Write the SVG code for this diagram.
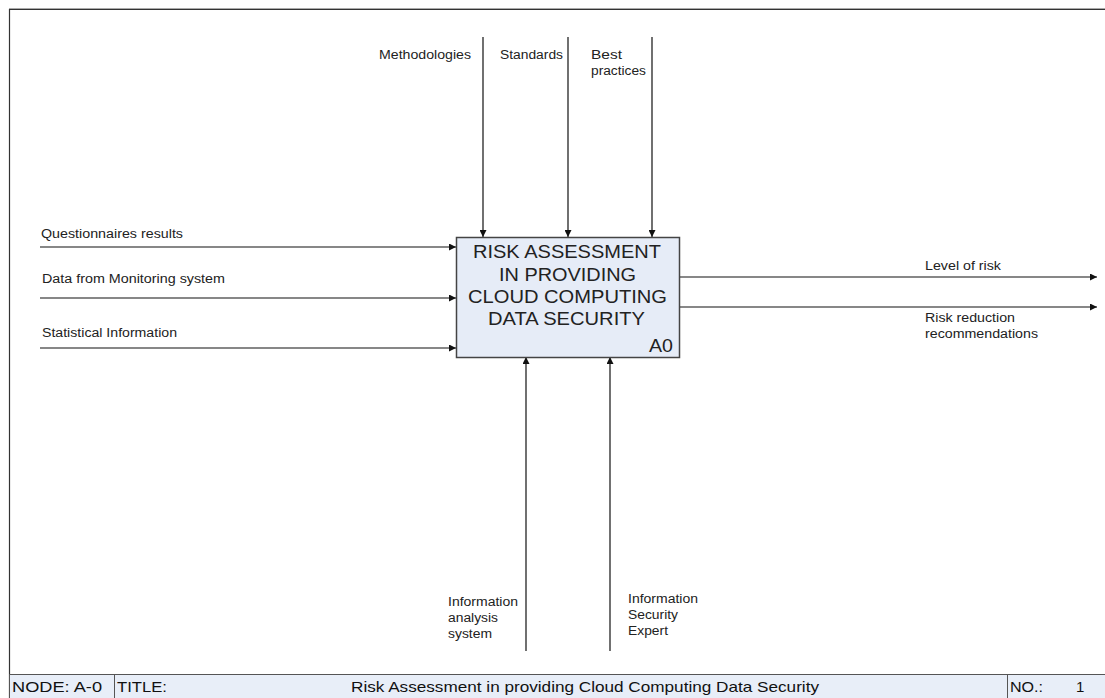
<svg xmlns="http://www.w3.org/2000/svg" width="1105" height="698" viewBox="0 0 1105 698">
<style>
.lbl{font-family:"Liberation Sans",Arial,sans-serif;font-size:12.5px;fill:#222}
.ttl{font-family:"Liberation Sans",Arial,sans-serif;font-size:18.5px;fill:#222}
.ft{font-family:"Liberation Sans",Arial,sans-serif;font-size:15px;fill:#111}
.ar{stroke:#111;stroke-width:1.2;fill:none;marker-end:url(#ah)}
</style>
<defs>
<marker id="ah" viewBox="0 0 10 10" refX="10" refY="5" markerWidth="8" markerHeight="7" markerUnits="userSpaceOnUse" orient="auto">
<path d="M0,0 L10,5 L0,10 Z" fill="#111"/>
</marker>
</defs>
<rect width="1105" height="698" fill="#fff"/>
<g id="frame">
<line x1="9" y1="8.5" x2="1105" y2="8.5" stroke="#aaa" stroke-width="1"/>
<line x1="9" y1="9.5" x2="1105" y2="9.5" stroke="#333" stroke-width="1.2"/>
<line x1="9.5" y1="9" x2="9.5" y2="698" stroke="#333" stroke-width="1.2"/>
<rect x="9.5" y="674.5" width="1100" height="26" fill="#e8eef8" stroke="#555" stroke-width="1"/>
<line x1="114.5" y1="674" x2="114.5" y2="698" stroke="#555"/>
<line x1="1007.5" y1="674" x2="1007.5" y2="698" stroke="#555"/>
<text class="ft" x="12" y="692" textLength="90" lengthAdjust="spacingAndGlyphs">NODE:  A-0</text>
<text class="ft" x="117" y="692" textLength="50" lengthAdjust="spacingAndGlyphs">TITLE:</text>
<text class="ft" x="351" y="692" textLength="468" lengthAdjust="spacingAndGlyphs">Risk Assessment in providing Cloud Computing Data Security</text>
<text class="ft" x="1010" y="692" textLength="33" lengthAdjust="spacingAndGlyphs">NO.:</text>
<text class="ft" x="1076" y="692">1</text>
</g>
<g id="connectors">
<line class="ar" x1="483" y1="37" x2="483" y2="237"/>
<line class="ar" x1="568" y1="37" x2="568" y2="237"/>
<line class="ar" x1="652" y1="37" x2="652" y2="237"/>
<line class="ar" x1="40" y1="247" x2="456" y2="247"/>
<line class="ar" x1="40" y1="298" x2="456" y2="298"/>
<line class="ar" x1="40" y1="348" x2="456" y2="348"/>
<line class="ar" x1="680" y1="277" x2="1097" y2="277"/>
<line class="ar" x1="680" y1="307" x2="1097" y2="307"/>
<line class="ar" x1="526" y1="651" x2="526" y2="357"/>
<line class="ar" x1="610" y1="651" x2="610" y2="357"/>
</g>
<g id="labels">
<text class="lbl" x="379" y="59" textLength="92" lengthAdjust="spacingAndGlyphs">Methodologies</text>
<text class="lbl" x="500" y="59" textLength="63" lengthAdjust="spacingAndGlyphs">Standards</text>
<text class="lbl" x="591" y="59" textLength="31" lengthAdjust="spacingAndGlyphs">Best</text>
<text class="lbl" x="591" y="75" textLength="55" lengthAdjust="spacingAndGlyphs">practices</text>
<text class="lbl" x="41" y="238" textLength="142" lengthAdjust="spacingAndGlyphs">Questionnaires results</text>
<text class="lbl" x="42" y="283" textLength="183" lengthAdjust="spacingAndGlyphs">Data from Monitoring system</text>
<text class="lbl" x="42" y="337" textLength="135" lengthAdjust="spacingAndGlyphs">Statistical Information</text>
<text class="lbl" x="925" y="270" textLength="76" lengthAdjust="spacingAndGlyphs">Level of risk</text>
<text class="lbl" x="925" y="322" textLength="90" lengthAdjust="spacingAndGlyphs">Risk reduction</text>
<text class="lbl" x="925" y="338" textLength="113" lengthAdjust="spacingAndGlyphs">recommendations</text>
<text class="lbl" x="448" y="606" textLength="70" lengthAdjust="spacingAndGlyphs">Information</text>
<text class="lbl" x="448" y="622" textLength="50" lengthAdjust="spacingAndGlyphs">analysis</text>
<text class="lbl" x="448" y="638" textLength="44" lengthAdjust="spacingAndGlyphs">system</text>
<text class="lbl" x="628" y="603" textLength="70" lengthAdjust="spacingAndGlyphs">Information</text>
<text class="lbl" x="628" y="619" textLength="50" lengthAdjust="spacingAndGlyphs">Security</text>
<text class="lbl" x="628" y="635" textLength="40" lengthAdjust="spacingAndGlyphs">Expert</text>
</g>
<g id="A0">
<rect x="456.5" y="237.5" width="223" height="120" fill="#e6ecf7" stroke="#444" stroke-width="1.5"/>
<text class="ttl" x="473" y="258" textLength="188" lengthAdjust="spacingAndGlyphs">RISK ASSESSMENT</text>
<text class="ttl" x="499" y="281" textLength="137" lengthAdjust="spacingAndGlyphs">IN PROVIDING</text>
<text class="ttl" x="468" y="303" textLength="199" lengthAdjust="spacingAndGlyphs">CLOUD COMPUTING</text>
<text class="ttl" x="488" y="325" textLength="157" lengthAdjust="spacingAndGlyphs">DATA SECURITY</text>
<text class="ttl" x="649" y="352" textLength="24" lengthAdjust="spacingAndGlyphs">A0</text>
</g>
</svg>
